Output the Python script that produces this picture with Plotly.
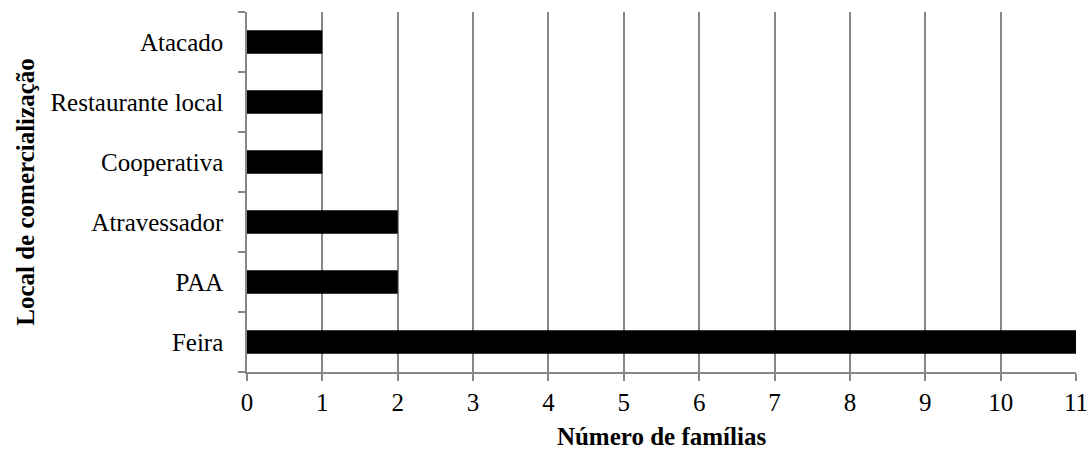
import plotly.graph_objects as go

categories = ["Feira", "PAA", "Atravessador", "Cooperativa", "Restaurante local", "Atacado"]
values = [11, 2, 2, 1, 1, 1]
x_ticks = list(range(0, 12))

FONT = "Liberation Serif"
GRAY = "#878787"

fig = go.Figure(
    go.Bar(
        x=values,
        y=categories,
        orientation="h",
        marker=dict(color="#000000", line=dict(width=0)),
    )
)

fig.update_layout(
    width=1090,
    height=452,
    margin=dict(l=247, r=14, t=12, b=80),
    paper_bgcolor="white",
    plot_bgcolor="white",
    bargap=0.61,
    showlegend=False,
    font=dict(family=FONT, size=25, color="black"),
)

fig.update_xaxes(
    range=[0, 11],
    tickmode="array",
    tickvals=x_ticks,
    ticktext=[str(v) for v in x_ticks],
    showgrid=True,
    gridcolor=GRAY,
    gridwidth=1.5,
    showline=True,
    linecolor=GRAY,
    linewidth=1.5,
    ticks="outside",
    ticklen=7,
    tickwidth=1.5,
    tickcolor=GRAY,
    zeroline=False,
    tickfont=dict(family=FONT, size=25, color="black"),
    title=dict(text="<b>Número de famílias</b>", font=dict(family=FONT, size=25, color="black"), standoff=13),
    automargin=False,
)

fig.update_yaxes(
    categoryorder="array",
    categoryarray=categories,
    range=[-0.5, 5.5],
    showgrid=False,
    showline=True,
    linecolor=GRAY,
    linewidth=1.5,
    ticks="outside",
    tickson="boundaries",
    ticklen=7,
    tickwidth=1.5,
    tickcolor=GRAY,
    zeroline=False,
    ticklabelstandoff=17,
    tickfont=dict(family=FONT, size=25, color="black"),
    title=dict(text="<b>Local de comercialização</b>", font=dict(family=FONT, size=25, color="black"), standoff=9),
    automargin=False,
)

fig.write_html(
    "out.html",
    post_script="document.body.style.margin='0px';",
    config={"displayModeBar": False},
)
